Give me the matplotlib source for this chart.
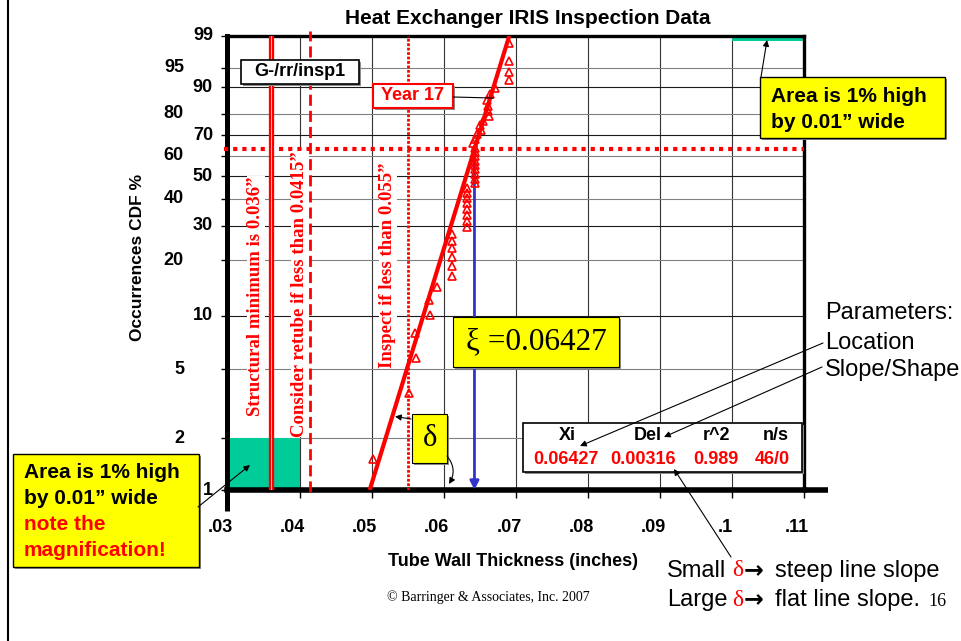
import numpy as np
import matplotlib
matplotlib.use("Agg")
import matplotlib.pyplot as plt
from matplotlib.patches import Rectangle, FancyArrowPatch
from matplotlib.lines import Line2D

plt.rcParams['font.family'] = ['Liberation Sans', 'DejaVu Sans']
SERIF = ['Liberation Serif', 'DejaVu Serif']

# Tube wall readings (inches), in the rank order they are plotted
thickness = [0.0502, 0.0552, 0.0562, 0.0560, 0.0581, 0.0579, 0.0591,
             0.0612, 0.0612, 0.0612, 0.0612, 0.0612, 0.0612,
             0.0632, 0.0632, 0.0632, 0.0632, 0.0632, 0.0632, 0.0632, 0.0632,
             0.0643, 0.0643, 0.0643, 0.0643, 0.0643, 0.0643, 0.0643, 0.0643, 0.0643,
             0.0641, 0.0643, 0.0646, 0.0652, 0.0650, 0.0655,
             0.0663, 0.0662, 0.0662, 0.0660, 0.0664, 0.0671,
             0.0691, 0.0691, 0.0691, 0.0691]

# Gumbel (smallest extreme value) fit results
xi = 0.06427
delta = 0.00316
r_sq = 0.989
n_s = '46/0'

# limits (inches)
structural_min = 0.036
retube_limit = 0.0415
inspect_limit = 0.055

ytick_pct = [1, 2, 5, 10, 20, 30, 40, 50, 60, 70, 80, 90, 95, 99]
outer_pct = [2, 5, 20, 40, 60, 80, 95]
xtick_vals = [0.03, 0.04, 0.05, 0.06, 0.07, 0.08, 0.09, 0.10, 0.11]
xtick_labels = ['.03', '.04', '.05', '.06', '.07', '.08', '.09', '.1', '.11']

RED = '#FF0000'
TEAL = '#00CC99'
YELLOW = '#FFFF00'
BLUE = '#3333CC'

W, H = 962, 641


def sev(F):
    # smallest extreme value probability scale
    return np.log(-np.log(1 - np.asarray(F)))


def fx(x):
    return x / W


def fy(y):
    return 1 - y / H


fig = plt.figure(figsize=(W / 100, H / 100), dpi=100)
ax = fig.add_axes([227.5 / W, 1 - 490 / H, 576.5 / W, 454 / H])
ax.set_xlim(0.03, 0.11)
ax.set_ylim(sev(0.01), sev(0.99))

# grid
for v in xtick_vals[1:-1]:
    ax.axvline(v, color='#333333', lw=0.8, zorder=1)
for p in ytick_pct[1:-1]:
    c = '#808080' if p in outer_pct else '#1a1a1a'
    ax.axhline(sev(p / 100), color=c, lw=0.8, zorder=1)

# teal "area" blocks
ax.fill_between([0.03, 0.04], sev(0.01), sev(0.02), color=TEAL, lw=0, zorder=1.5)
ax.fill_between([0.10, 0.11], sev(0.9865), sev(0.99), color=TEAL, lw=0, zorder=1.5)

# limit lines
ax.axvline(structural_min, color=RED, lw=3.8, zorder=3)
ax.axvline(structural_min + 0.00006, color='white', lw=0.5, zorder=3.1)
ax.axvline(retube_limit, ymin=-0.005, ymax=1.012, color=RED, lw=2,
           ls=(0, (4, 1.8)), clip_on=False, zorder=3)
ax.axvline(inspect_limit, color=RED, lw=2, ls=(0, (1, 0.6)), zorder=3)
ax.plot([0.0295, 0.11], [0, 0], color=RED, lw=3, ls=(0, (1, 1.2)),
        clip_on=False, zorder=3)

# location arrow
ax.annotate('', xy=(xi, sev(0.01)), xytext=(xi, 0),
            arrowprops=dict(arrowstyle='-|>', color=BLUE, lw=2,
                            mutation_scale=13, shrinkA=0, shrinkB=0),
            zorder=3)

# fitted line and data
F_ends = np.array([0.01, 0.99])
x_fit = xi + delta * sev(F_ends)
ax.plot(x_fit, sev(F_ends), color=RED, lw=3, zorder=4, solid_capstyle='butt')

n = len(thickness)
ranks = (np.arange(1, n + 1) - 0.3) / (n + 0.4)
ax.plot(thickness, sev(ranks), '^', ms=5.5, mfc='none', mec=RED, mew=1.2,
        zorder=5)

# axes frame
ax.spines['left'].set_linewidth(3.6)
ax.spines['bottom'].set_linewidth(4)
ax.spines['top'].set_linewidth(2.4)
ax.spines['right'].set_linewidth(2.4)
ax.plot([0, 0], [0, -21 / 454], transform=ax.transAxes, color='k', lw=3.6,
        clip_on=False, solid_capstyle='butt')
ax.plot([1, 1 + 24 / 576.5], [0, 0], transform=ax.transAxes, color='k', lw=4,
        clip_on=False, solid_capstyle='butt')

ax.set_xticks(xtick_vals)
ax.set_yticks(sev(np.array(ytick_pct) / 100))
ax.tick_params(axis='x', direction='out', length=6, width=1, labelbottom=False)
ax.tick_params(axis='y', direction='out', length=4.5, width=1, labelleft=False)

for v, lab in zip(xtick_vals, xtick_labels):
    ax.text(v - 0.00095, -0.0837, lab, transform=ax.get_xaxis_transform(),
            ha='center', va='center', fontsize=13, fontweight='bold')
for p in ytick_pct:
    xl = -0.0755 if p in outer_pct else -0.0252
    ax.text(xl, sev(p / 100), str(p), transform=ax.get_yaxis_transform(),
            ha='right', va='center', fontsize=13, fontweight='bold')

# titles
fig.text(fx(528), fy(18), 'Heat Exchanger IRIS Inspection Data', ha='center',
         va='center', fontsize=15, fontweight='bold')
fig.text(fx(513), fy(561), 'Tube Wall Thickness (inches)', ha='center',
         va='center', fontsize=13, fontweight='bold')
fig.text(fx(138), fy(257), 'Occurrences CDF %', rotation=90, ha='center',
         va='center', fontsize=12.5, fontweight='bold')
fig.text(fx(488), fy(597), '\u00a9 Barringer & Associates, Inc. 2007',
         ha='center', va='center', fontsize=10, family=SERIF)

# rotated limit notes
for x, y, s in [(256, 296, 'Structural minimum is 0.036\u201d'),
                (300, 294, 'Consider retube if less than 0.0415\u201d'),
                (388, 265, 'Inspect if less than 0.055\u201d')]:
    fig.text(fx(x), fy(y), s, rotation=90, ha='center', va='center',
             fontsize=13.5, fontweight='bold', color=RED, family=SERIF,
             bbox=dict(fc='white', ec='none', pad=0.1))


def box(x0, y0, x1, y1, fc, ec='black', lw=1.0, shadow=True):
    if shadow:
        fig.add_artist(Rectangle((fx(x0 + 2), fy(y1 + 2)), (x1 - x0) / W,
                                 (y1 - y0) / H, transform=fig.transFigure,
                                 fc='#8c8c8c', ec='none', zorder=4))
    fig.add_artist(Rectangle((fx(x0), fy(y1)), (x1 - x0) / W, (y1 - y0) / H,
                             transform=fig.transFigure, fc=fc, ec=ec, lw=lw,
                             zorder=5))


def arrow(x0, y0, x1, y1, style='-|>', rad=0.0):
    fig.add_artist(FancyArrowPatch((fx(x0), fy(y0)), (fx(x1), fy(y1)),
                                   transform=fig.transFigure, arrowstyle=style,
                                   mutation_scale=9, lw=0.8, color='black',
                                   connectionstyle=f'arc3,rad={rad}',
                                   shrinkA=0, shrinkB=0, zorder=8))


def label(x, y, s, **kw):
    opts = dict(ha='center', va='center', fontsize=13, fontweight='bold',
                zorder=6)
    opts.update(kw)
    fig.text(fx(x), fy(y), s, **opts)


# G-/rr/insp1 tag
box(241, 60, 359, 84, 'white', lw=1.2)
label(300, 72, 'G-/rr/insp1')

# Year 17 tag
box(373, 84, 453, 108, 'white', ec=RED, lw=1.5)
label(413, 96, 'Year 17', color=RED)
arrow(453, 97, 493, 98, style='-')

# xi box
box(453, 317, 619, 367, YELLOW, lw=0.8)
label(536, 342, '\u03be =0.06427', fontsize=22.5, fontweight='normal',
      family=SERIF)

# delta box
box(412, 414, 447, 463, YELLOW, lw=0.8)
label(430, 438, '\u03b4', fontsize=22, fontweight='normal', family=SERIF)
arrow(411, 419, 395, 416.5)
arrow(447, 456, 449, 484, rad=-0.35)

# parameter table
box(523, 423, 802, 472, 'white', lw=1.2)
for x, s in [(567, 'Xi'), (648, 'Del'), (717, 'r^2'), (776, 'n/s')]:
    label(x, 436, s)
for x, s in [(566, f'{xi:.5f}'), (643, f'{delta:.5f}'), (716, f'{r_sq:.3f}'),
             (772, n_s)]:
    label(x, 460, s, color=RED)

# area notes
box(13, 454, 199, 567, YELLOW, lw=1.0)
for y, s, c in [(473, 'Area is 1% high', 'black'),
                (499, 'by 0.01\u201d wide', 'black'),
                (525, 'note the', RED),
                (550, 'magnification!', RED)]:
    label(24, y, s, ha='left', fontsize=15, color=c)
arrow(198, 507, 250, 465)

box(760, 77, 945, 138, YELLOW, lw=1.0)
for y, s in [(97, 'Area is 1% high'), (122, 'by 0.01\u201d wide')]:
    label(771, y, s, ha='left', fontsize=15)
arrow(761, 77, 767, 40)

# parameter notes on the right
for y, s in [(313, 'Parameters:'), (343, 'Location'), (370, 'Slope/Shape')]:
    label(825, y, s, ha='left', fontsize=17, fontweight='normal')
arrow(823, 343, 580, 446)
arrow(822, 367, 664, 437)

# slope notes at the bottom
for y, a, b in [(571, 'Small', 'steep line slope'),
                (600, 'Large', 'flat line slope.')]:
    label(667, y, a, ha='left', fontsize=17, fontweight='normal')
    label(732, y, '\u03b4', ha='left', fontsize=17, fontweight='normal',
          color=RED, family=SERIF)
    label(744, y - 1, '\u2192', ha='left', fontsize=17, fontweight='bold',
          family=['DejaVu Sans'])
    label(775, y, b, ha='left', fontsize=17, fontweight='normal')
arrow(731, 557, 674, 469)
label(928, 601, '16', ha='left', fontsize=13, fontweight='normal', family=SERIF)

# slide border
fig.add_artist(Line2D([fx(8), fx(8)], [0, 1], transform=fig.transFigure,
                      color='black', lw=1.5))

fig.savefig('out.png', dpi=100)
